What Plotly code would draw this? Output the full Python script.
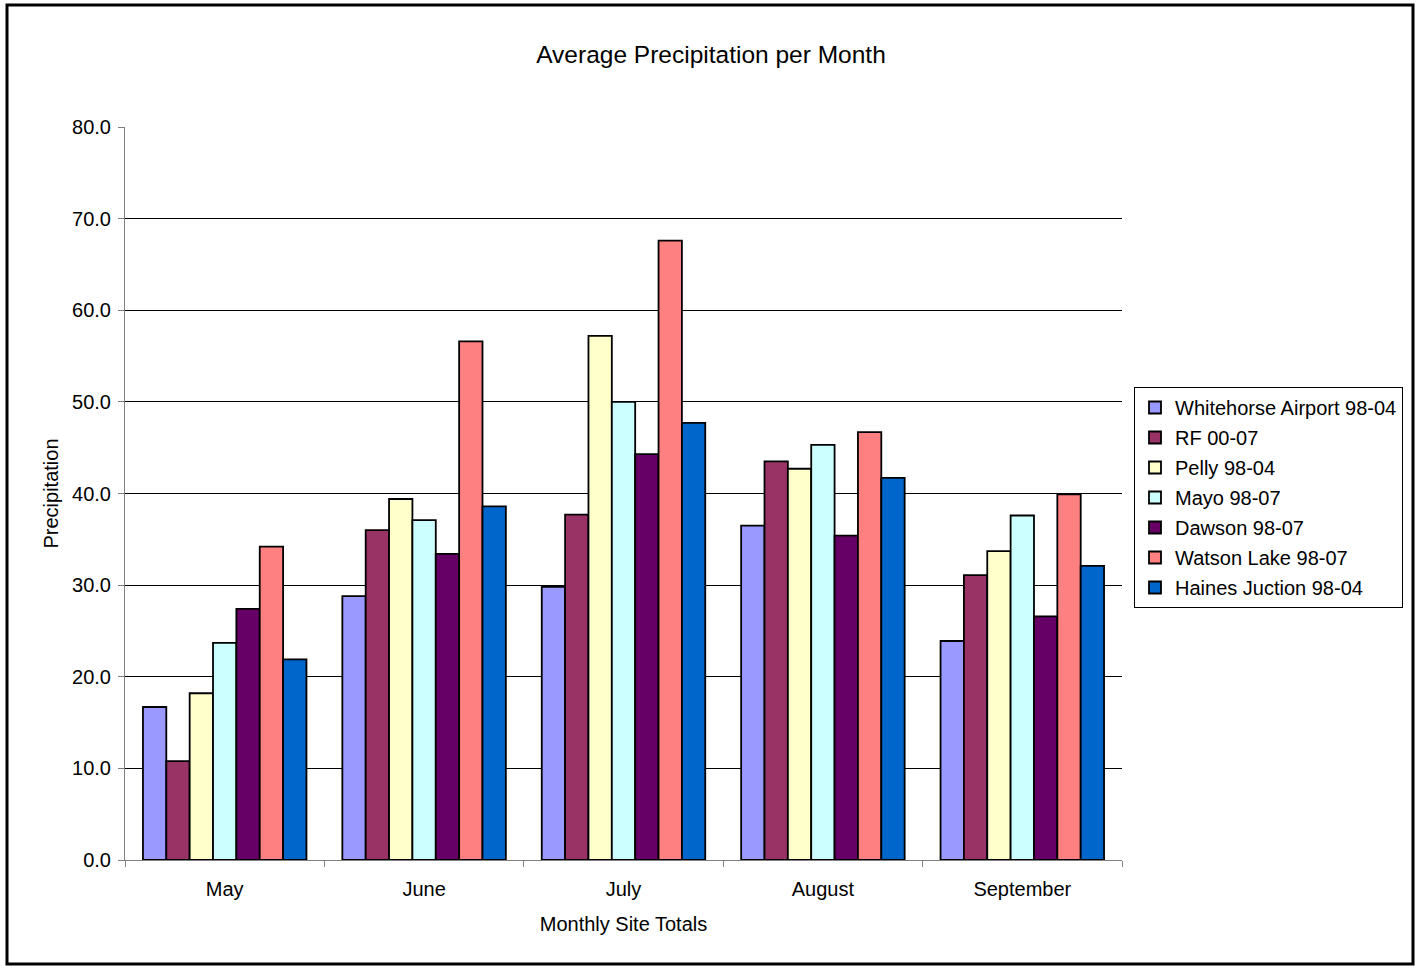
import plotly.graph_objects as go

months = ["May", "June", "July", "August", "September"]

whitehorse = [16.7, 28.8, 29.8, 36.5, 23.9]
rf = [10.8, 36.0, 37.7, 43.5, 31.1]
pelly = [18.2, 39.4, 57.2, 42.7, 33.7]
mayo = [23.7, 37.1, 50.0, 45.3, 37.6]
dawson = [27.4, 33.4, 44.3, 35.4, 26.6]
watson = [34.2, 56.6, 67.6, 46.7, 39.9]
haines = [21.9, 38.6, 47.7, 41.7, 32.1]

series_names = [
    "Whitehorse Airport 98-04",
    "RF 00-07",
    "Pelly 98-04",
    "Mayo 98-07",
    "Dawson 98-07",
    "Watson Lake 98-07",
    "Haines Juction 98-04",
]
series_values = [whitehorse, rf, pelly, mayo, dawson, watson, haines]
series_colors = ["#9999FF", "#993366", "#FFFFCC", "#CCFFFF", "#660066", "#FF8080", "#0066CC"]

y_ticks = [0, 10, 20, 30, 40, 50, 60, 70, 80]

FONT = "Arial, Liberation Sans, sans-serif"

fig = go.Figure()
for name, vals, col in zip(series_names, series_values, series_colors):
    fig.add_trace(go.Bar(
        x=months, y=vals, name=name, legendgroup=name,
        marker=dict(color=col, line=dict(color="#000000", width=1.8)),
    ))

fig.update_layout(
    width=1422, height=966,
    margin=dict(l=125, r=300, t=127, b=106),
    paper_bgcolor="white", plot_bgcolor="white",
    barmode="group", bargap=0.18, bargroupgap=0,
    font=dict(family=FONT, size=20, color="#000000"),
    title=dict(text="Average Precipitation per Month", x=0.5, xanchor="center",
               y=1 - 54 / 966, yanchor="middle", yref="container",
               font=dict(size=24.5, family=FONT, color="#000000")),
    xaxis=dict(
        type="category", tickson="boundaries", ticks="outside", ticklen=6,
        tickcolor="#808080", showline=True, linecolor="#808080", linewidth=1,
        showgrid=False, tickfont=dict(size=20), ticklabelstandoff=11,
        title=dict(text="Monthly Site Totals", standoff=17, font=dict(size=20)),
    ),
    yaxis=dict(
        range=[0, 80], tickvals=y_ticks, ticktext=[f"{v:.1f}" for v in y_ticks],
        ticks="outside", ticklen=6, tickcolor="#808080",
        showline=True, linecolor="#808080", linewidth=1,
        showgrid=True, gridcolor="#000000", gridwidth=1, zeroline=False,
        tickfont=dict(size=20), ticklabelstandoff=3,
        title=dict(text="Precipitation", standoff=8, font=dict(size=20)),
    ),
    legend=dict(
        x=(1134 - 125) / 997, xanchor="left",
        y=(860 - 387) / 733, yanchor="top",
        bordercolor="#000000", borderwidth=1, bgcolor="white",
        traceorder="grouped", tracegroupgap=1,
        font=dict(size=20, family=FONT),
    ),
    showlegend=True,
)

# outer chart frame
fig.add_shape(
    type="rect", xref="paper", yref="paper",
    x0=(7 - 125) / 997, x1=(1413 - 125) / 997,
    y0=(860 - 964) / 733, y1=(860 - 5) / 733,
    line=dict(color="#000000", width=3), layer="below",
)

fig.write_html("out.html")
